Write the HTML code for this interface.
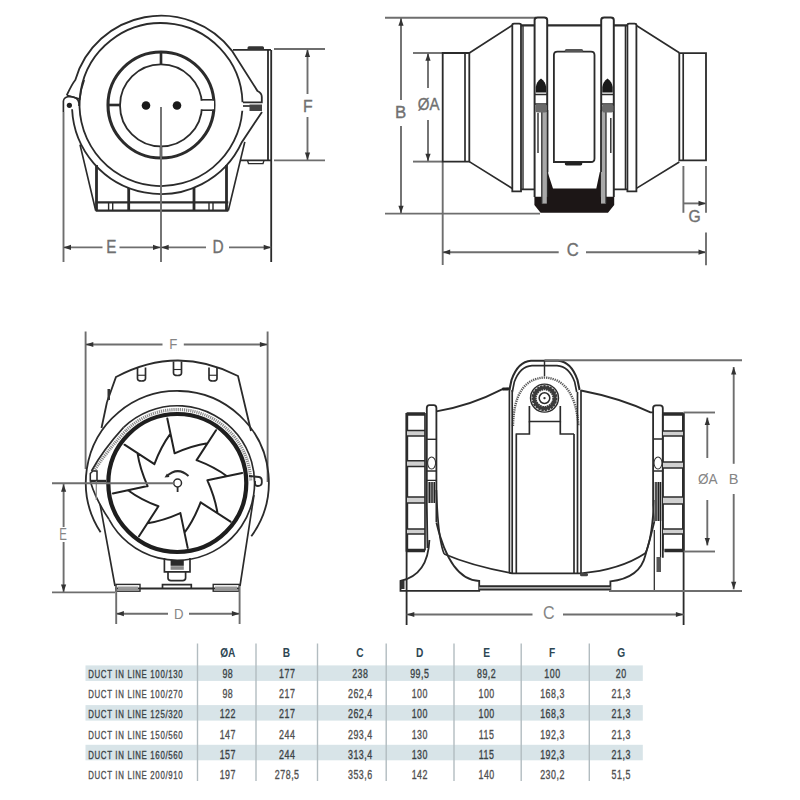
<!DOCTYPE html>
<html><head><meta charset="utf-8"><style>
html,body{margin:0;padding:0;background:#fff;width:800px;height:800px;overflow:hidden}
svg{display:block;font-family:"Liberation Sans",sans-serif}
</style></head><body>
<svg width="800" height="800" viewBox="0 0 800 800" stroke-linecap="butt">
<g>
<circle cx="161" cy="105.4" r="41" stroke="#2b2b2b" stroke-width="1.82" fill="none"/>
<circle cx="161" cy="105" r="53" stroke="#2b2b2b" stroke-width="3.08" fill="none"/>
<line x1="161" y1="52" x2="161" y2="64.5" stroke="#2b2b2b" stroke-width="2.64"/>
<line x1="108" y1="105" x2="120.5" y2="105" stroke="#2b2b2b" stroke-width="2.64"/>
<line x1="161" y1="146" x2="161" y2="158" stroke="#2b2b2b" stroke-width="2.64"/>
<path d="M201.5,99.8 L212.5,99.8 M201.5,110.2 L212.5,110.2" stroke="#2b2b2b" stroke-width="1.82" fill="none"/>
<rect x="200" y="100.8" width="14" height="8.4" fill="#fff"/>
<circle cx="146" cy="105.5" r="4.3" stroke="#2b2b2b" stroke-width="0.0" fill="#1a1a1a"/>
<circle cx="177" cy="105.5" r="4.3" stroke="#2b2b2b" stroke-width="0.0" fill="#1a1a1a"/>
<path d="M80.7,90.8 A81.5,81.5 0 0 1 242.5,102.2" stroke="#2b2b2b" stroke-width="1.82" fill="none"/>
<path d="M242.3,110.7 A81.5,81.5 0 1 1 80.7,90.8" stroke="#2b2b2b" stroke-width="1.82" fill="none"/>
<path d="M66.8,95.2 Q72,84 75.3,80 L75.3,79.9 A89.3,89.3 0 0 1 231.8,50.6 L257.5,91 Q261.8,93 261.8,97 L261.8,102.4 L243,102.4" stroke="#2b2b2b" stroke-width="1.82" fill="none"/>
<path d="M84.2,80 Q80.5,90 79.8,99.1 L66.8,95.2" stroke="#2b2b2b" stroke-width="1.68" fill="none"/>
<path d="M63.4,112 L63.4,101 Q64,96.5 70.5,96.5 Q78,97 79,103 L79,106" stroke="#2b2b2b" stroke-width="1.68" fill="none"/>
<circle cx="69.4" cy="105.3" r="2.6" stroke="#2b2b2b" stroke-width="0.0" fill="#222"/>
<path d="M72.1,109.3 A89,89 0 0 0 242.0,141.9 L262,112" stroke="#2b2b2b" stroke-width="1.82" fill="none"/>
<path d="M243,106 L262,106" stroke="#2b2b2b" stroke-width="1.68" fill="none"/>
<rect x="249.5" y="104.5" width="12.5" height="6.5" fill="#444"/>
<path d="M233,49.9 L271,49.9 M268,49.9 L268,160.4 M271.2,49.9 L271.2,262 M240,160.4 L271.2,160.4" stroke="#2b2b2b" stroke-width="1.82" fill="none"/>
<rect x="247.5" y="46.3" width="16.5" height="3.6" rx="1.5" fill="#333"/>
<path d="M247.5,160.4 L248.5,163.6 L263,163.6 L264,160.4" stroke="#2b2b2b" stroke-width="1.4" fill="none"/>
<path d="M80,144.6 L95.7,210.6 M244.8,141.9 L228.3,210.6" stroke="#2b2b2b" stroke-width="1.68" fill="none"/>
<path d="M95.7,210.6 L228.3,210.6 M95.7,202.4 L228.3,202.4" stroke="#2b2b2b" stroke-width="2.24" fill="none"/>
<path d="M96.5,165 L96.5,210.6 M226.5,165 L226.5,210.6" stroke="#2b2b2b" stroke-width="2.8" fill="none"/>
<path d="M128.7,188 L128.7,210.6 M194,188 L194,210.6" stroke="#2b2b2b" stroke-width="2.8" fill="none"/>
<path d="M108.6,202.4 L108.6,210.6 M112.7,202.4 L112.7,210.6 M209,202.4 L209,210.6 M213,202.4 L213,210.6" stroke="#2b2b2b" stroke-width="1.4" fill="none"/>
<line x1="161" y1="107" x2="161" y2="262" stroke="#6e6e6e" stroke-width="1.9"/>
<line x1="63.5" y1="112" x2="63.5" y2="262" stroke="#6e6e6e" stroke-width="1.9"/>
<line x1="63.5" y1="247.4" x2="102.5" y2="247.4" stroke="#6e6e6e" stroke-width="1.9"/>
<line x1="119.5" y1="247.4" x2="160.8" y2="247.4" stroke="#6e6e6e" stroke-width="1.9"/>
<line x1="160.8" y1="247.4" x2="206" y2="247.4" stroke="#6e6e6e" stroke-width="1.9"/>
<line x1="229" y1="247.4" x2="271.2" y2="247.4" stroke="#6e6e6e" stroke-width="1.9"/>
<polygon points="63.5,247.4 71.0,244.8 71.0,250.0" fill="#333"/>
<polygon points="160.5,247.4 153.0,244.8 153.0,250.0" fill="#333"/>
<polygon points="161.2,247.4 168.7,244.8 168.7,250.0" fill="#333"/>
<polygon points="271.2,247.4 263.7,244.8 263.7,250.0" fill="#333"/>
<text x="111.4" y="252.8" font-size="18.43" fill="#707070" stroke="#707070" stroke-width="0.35" text-anchor="middle" font-family="Liberation Sans, sans-serif" transform="translate(111.4 252.8) scale(0.83 1) translate(-111.4 -252.8)">E</text>
<text x="218.2" y="252.8" font-size="18.43" fill="#707070" stroke="#707070" stroke-width="0.35" text-anchor="middle" font-family="Liberation Sans, sans-serif" transform="translate(218.2 252.8) scale(0.84 1) translate(-218.2 -252.8)">D</text>
<line x1="274" y1="49" x2="325" y2="49" stroke="#6e6e6e" stroke-width="1.9"/>
<line x1="274" y1="160.4" x2="325" y2="160.4" stroke="#6e6e6e" stroke-width="1.9"/>
<line x1="307.5" y1="49" x2="307.5" y2="94" stroke="#6e6e6e" stroke-width="1.9"/>
<line x1="307.5" y1="117" x2="307.5" y2="160.4" stroke="#6e6e6e" stroke-width="1.9"/>
<polygon points="307.5,49.5 304.9,57.0 310.1,57.0" fill="#333"/>
<polygon points="307.5,160.0 304.9,152.5 310.1,152.5" fill="#333"/>
<text x="307.8" y="111.6" font-size="17.36" fill="#707070" stroke="#707070" stroke-width="0.35" text-anchor="middle" font-family="Liberation Sans, sans-serif" transform="translate(307.8 111.6) scale(0.91 1) translate(-307.8 -111.6)">F</text>
<line x1="385" y1="17.8" x2="536" y2="17.8" stroke="#6e6e6e" stroke-width="1.9"/>
<line x1="385" y1="213.6" x2="540" y2="213.6" stroke="#6e6e6e" stroke-width="1.9"/>
<line x1="401" y1="18" x2="401" y2="100" stroke="#6e6e6e" stroke-width="1.9"/>
<line x1="401" y1="126" x2="401" y2="213.6" stroke="#6e6e6e" stroke-width="1.9"/>
<polygon points="401.0,18.3 398.4,25.8 403.6,25.8" fill="#333"/>
<polygon points="401.0,213.3 398.4,205.8 403.6,205.8" fill="#333"/>
<text x="400.6" y="118" font-size="16.9" fill="#707070" stroke="#707070" stroke-width="0.35" text-anchor="middle" font-family="Liberation Sans, sans-serif" transform="translate(400.6 118) scale(1.0 1) translate(-400.6 -118)">B</text>
<line x1="413" y1="53" x2="442" y2="53" stroke="#6e6e6e" stroke-width="1.9"/>
<line x1="413" y1="161.6" x2="442" y2="161.6" stroke="#6e6e6e" stroke-width="1.9"/>
<line x1="428" y1="53" x2="428" y2="88" stroke="#6e6e6e" stroke-width="1.9"/>
<line x1="428" y1="120" x2="428" y2="161.6" stroke="#6e6e6e" stroke-width="1.9"/>
<polygon points="428.0,53.3 425.4,60.8 430.6,60.8" fill="#333"/>
<polygon points="428.0,161.3 425.4,153.8 430.6,153.8" fill="#333"/>
<text x="428.6" y="110" font-size="16.9" fill="#707070" stroke="#707070" stroke-width="0.35" text-anchor="middle" font-family="Liberation Sans, sans-serif" transform="translate(428.6 110) scale(0.89 1) translate(-428.6 -110)">ØA</text>
<line x1="442.7" y1="161.6" x2="442.7" y2="265" stroke="#6e6e6e" stroke-width="1.9"/>
<line x1="442.7" y1="252.2" x2="558.7" y2="252.2" stroke="#6e6e6e" stroke-width="1.9"/>
<line x1="586" y1="252.2" x2="706" y2="252.2" stroke="#6e6e6e" stroke-width="1.9"/>
<polygon points="442.7,252.2 450.2,249.6 450.2,254.8" fill="#333"/>
<polygon points="706.0,252.2 698.5,249.6 698.5,254.8" fill="#333"/>
<text x="572.8" y="256.4" font-size="18.43" fill="#707070" stroke="#707070" stroke-width="0.35" text-anchor="middle" font-family="Liberation Sans, sans-serif" transform="translate(572.8 256.4) scale(0.9 1) translate(-572.8 -256.4)">C</text>
<line x1="683.4" y1="166" x2="683.4" y2="212.8" stroke="#6e6e6e" stroke-width="1.9"/>
<line x1="706" y1="166" x2="706" y2="212.8" stroke="#6e6e6e" stroke-width="1.9"/>
<line x1="706" y1="232.5" x2="706" y2="265.3" stroke="#6e6e6e" stroke-width="1.9"/>
<line x1="683.4" y1="203.4" x2="706" y2="203.4" stroke="#6e6e6e" stroke-width="1.9"/>
<polygon points="706.0,203.4 698.5,200.8 698.5,206.0" fill="#333"/>
<text x="694.5" y="222" font-size="15.67" fill="#707070" stroke="#707070" stroke-width="0.35" text-anchor="middle" font-family="Liberation Sans, sans-serif" transform="translate(694.5 222) scale(1.0 1) translate(-694.5 -222)">G</text>
<path d="M442.7,53 L469.3,53 L469.3,161.6 L442.7,161.6 Z" stroke="#2b2b2b" stroke-width="1.82" fill="none"/>
<path d="M465,53 L465,161.6" stroke="#2b2b2b" stroke-width="1.68" fill="none"/>
<path d="M469.3,53 L512.3,25.2 M469.3,161.6 L512.3,188.5" stroke="#2b2b2b" stroke-width="1.68" fill="none"/>
<path d="M512.3,191.4 L512.3,25 Q512.3,23.6 514,23.6 L519.3,23.6 Q521,23.6 521,25 L521,191.4 Z" stroke="#2b2b2b" stroke-width="1.82" fill="none"/>
<path d="M521,25.4 L535,25.4 M547.3,25.4 L601.2,25.4 M613.7,25.4 L627.4,25.4" stroke="#2b2b2b" stroke-width="2.24" fill="none"/>
<path d="M521,189.3 L535,189.3 M613.7,189.3 L627.4,189.3" stroke="#2b2b2b" stroke-width="1.82" fill="none"/>
<path d="M523,25.4 L523,189.3 M625.4,25.4 L625.4,189.3" stroke="#2b2b2b" stroke-width="1.4" fill="none"/>
<path d="M627.4,191.4 L627.4,25 Q627.4,23.6 629,23.6 L634.6,23.6 Q636.4,23.6 636.4,25 L636.4,191.4 Z" stroke="#2b2b2b" stroke-width="1.82" fill="none"/>
<path d="M636.4,25.5 L679.3,52.8 M636.4,188.4 L679.3,162" stroke="#2b2b2b" stroke-width="1.68" fill="none"/>
<path d="M679.3,53.2 L706,53.2 L706,160.3 L679.3,160.3 Z" stroke="#2b2b2b" stroke-width="1.82" fill="none"/>
<path d="M683.2,53.2 L683.2,160.3" stroke="#2b2b2b" stroke-width="1.68" fill="none"/>
<polygon points="534.4,196.8 547.6,196.8 547.6,172 553,188.5 596.3,188.5 599.8,172 601.2,172 601.2,196.8 614.2,196.8 614.2,205 608,212.7 540.6,212.7 534.4,205" fill="#1c1616"/>
<path d="M534.6,197 L534.6,20 Q534.6,17.5 537.6,17.5 L544.2,17.5 Q547.2,17.5 547.2,20 L547.2,197" stroke="#2b2b2b" stroke-width="1.96" fill="none"/>
<path d="M601.2,197 L601.2,20 Q601.2,17.5 604.2,17.5 L610.8000000000001,17.5 Q613.8000000000001,17.5 613.8000000000001,20 L613.8000000000001,197" stroke="#2b2b2b" stroke-width="1.96" fill="none"/>
<rect x="541.8" y="112" width="5" height="91.6" fill="#a8a8a8"/>
<rect x="601" y="112" width="5" height="91.6" fill="#a8a8a8"/>
<path d="M541.8,112 L541.8,203.6 M606,112 L606,203.6" stroke="#2b2b2b" stroke-width="1.26" fill="none"/>
<path d="M535.8,92.5 L535.8,87 Q536.5,81.5 541,78.5 Q545.5,81.5 546.2,87 L546.2,92.5 Z" fill="#1a1a1a"/>
<path d="M535,94.5 L547,94.5 M535,104 L547,104" stroke="#2b2b2b" stroke-width="1.68" fill="none"/>
<rect x="535.5" y="104.5" width="11.5" height="8" rx="2" fill="#6a6a6a"/>
<path d="M602.3,92.5 L602.3,87 Q603.0,81.5 607.5,78.5 Q612.0,81.5 612.7,87 L612.7,92.5 Z" fill="#1a1a1a"/>
<path d="M601.5,94.5 L613.5,94.5 M601.5,104 L613.5,104" stroke="#2b2b2b" stroke-width="1.68" fill="none"/>
<rect x="602.0" y="104.5" width="11.5" height="8" rx="2" fill="#6a6a6a"/>
<path d="M538,113 L538,153 M610.8,118 L610.8,153" stroke="#2b2b2b" stroke-width="1.4" fill="none"/>
<path d="M553.9,162 L553.9,55 Q553.9,51.6 557.5,51.6 L591,51.6 Q594.5,51.6 594.5,55 L594.5,158.5 Q594.5,162 591,162 Z" stroke="#2b2b2b" stroke-width="1.82" fill="none"/>
<rect x="564.8" y="49" width="18.3" height="3" rx="1.5" fill="#555"/>
<rect x="564.8" y="162" width="17.5" height="3.5" rx="1.7" fill="#222"/>
<path d="M547.6,172 L547.6,110 M601.2,172 L601.2,110" stroke="#2b2b2b" stroke-width="1.4" fill="none"/>
<line x1="85.6" y1="331.5" x2="85.6" y2="469" stroke="#6e6e6e" stroke-width="1.9"/>
<line x1="267.6" y1="331.5" x2="267.6" y2="482" stroke="#6e6e6e" stroke-width="1.9"/>
<line x1="85.6" y1="344.5" x2="162.5" y2="344.5" stroke="#6e6e6e" stroke-width="1.9"/>
<line x1="183.8" y1="344.5" x2="267.6" y2="344.5" stroke="#6e6e6e" stroke-width="1.9"/>
<polygon points="85.8,344.5 93.3,341.9 93.3,347.1" fill="#333"/>
<polygon points="267.4,344.5 259.9,341.9 259.9,347.1" fill="#333"/>
<text x="173.3" y="348.8" font-size="14.29" fill="#858585" stroke="#858585" stroke-width="0" text-anchor="middle" font-family="Liberation Sans, sans-serif" transform="translate(173.3 348.8) scale(0.93 1) translate(-173.3 -348.8)">F</text>
<path d="M107,402 L116,377 Q177,344.5 238,376 L251,431" stroke="#2b2b2b" stroke-width="1.82" fill="none"/>
<path d="M107,402 L101.5,428" stroke="#2b2b2b" stroke-width="1.82" fill="none"/>
<path d="M137.5,367.5 L137.5,378.5 Q137.5,381 141.5,381 Q145.5,381 145.5,378.5 L145.5,367.5" stroke="#2b2b2b" stroke-width="1.68" fill="none"/>
<path d="M137.5,375.25 L145.5,375.25" stroke="#2b2b2b" stroke-width="1.12" fill="none"/>
<path d="M173.5,361.5 L173.5,373.0 Q173.5,375.5 177.5,375.5 Q181.5,375.5 181.5,373.0 L181.5,361.5" stroke="#2b2b2b" stroke-width="1.68" fill="none"/>
<path d="M173.5,369.5 L181.5,369.5" stroke="#2b2b2b" stroke-width="1.12" fill="none"/>
<path d="M209,367.5 L209,378.5 Q209,381 213,381 Q217,381 217,378.5 L217,367.5" stroke="#2b2b2b" stroke-width="1.68" fill="none"/>
<path d="M209,375.25 L217,375.25" stroke="#2b2b2b" stroke-width="1.12" fill="none"/>
<rect x="107.5" y="389" width="2.5" height="11" fill="#333"/>
<path d="M100.6,532.3 A91.5,91.5 0 1 1 251.3,536.3" stroke="#2b2b2b" stroke-width="1.82" fill="none"/>
<path d="M123.6,427.4 A77.3,77.3 0 1 1 109.0,519.3" stroke="#2b2b2b" stroke-width="1.68" fill="none"/>
<path d="M126.3,430.2 A73.4,73.4 0 0 1 250.7,480.4" fill="none" stroke="#8a8a8a" stroke-width="3.2" stroke-dasharray="1.2 0.9"/>
<path d="M126,430.5 Q106,452 94,471" fill="none" stroke="#8a8a8a" stroke-width="3.2" stroke-dasharray="1.2 0.9"/>
<path d="M123.6,427.4 Q103,450 91.5,471" stroke="#2b2b2b" stroke-width="1.68" fill="none"/>
<path d="M90.5,482 Q96,500 109,519.3" stroke="#2b2b2b" stroke-width="1.68" fill="none"/>
<circle cx="177.3" cy="483" r="69" stroke="#1e1e1e" stroke-width="4.2" fill="none"/>
<path d="M100,504 L115,586 M254,495 L240,586" stroke="#2b2b2b" stroke-width="1.68" fill="none"/>
<path d="M90.3,481 L90.3,473.5 L92.8,471 L97,471 L97,481 Z" stroke="#2b2b2b" stroke-width="1.54" fill="none"/>
<path d="M90.3,481 L106,481" stroke="#2b2b2b" stroke-width="2.38" fill="none"/>
<path d="M96.3,481 L96.3,500" stroke="#888" stroke-width="1.26" fill="none"/>
<path d="M249,476 L259,477 Q261.8,477.5 261.8,480.5 L261.8,483 Q261.5,486 258,486 Q255,486 255,483.5 L255,481" stroke="#2b2b2b" stroke-width="1.82" fill="none"/>
<path d="M167.3,418.5 L174.6,453.3 M174.6,453.3 Q192.2,445.5 207.5,443.2 M216.0,430.2 L196.6,460.1 M196.6,460.1 Q214.5,466.9 227.0,476.2 M242.2,473.0 L207.4,480.3 M207.4,480.3 Q215.2,497.9 217.5,513.2 M230.5,521.7 L200.6,502.3 M200.6,502.3 Q193.8,520.2 184.5,532.7 M187.7,547.9 L180.4,513.1 M180.4,513.1 Q162.8,520.9 147.5,523.2 M139.0,536.2 L158.4,506.3 M158.4,506.3 Q140.5,499.5 128.0,490.2 M112.8,493.4 L147.6,486.1 M147.6,486.1 Q139.8,468.5 137.5,453.2 M124.5,444.7 L154.4,464.1 M154.4,464.1 Q161.2,446.2 170.5,433.7 " fill="none" stroke="#222" stroke-width="2.0" stroke-linejoin="round" stroke-linecap="round"/>
<circle cx="177.6" cy="483" r="3.9" fill="#fff" stroke="#2b2b2b" stroke-width="1.5"/>
<path d="M177.6,487 L177.6,492" stroke="#2b2b2b" stroke-width="1.82" fill="none"/>
<path d="M166.5,476.5 Q177.5,466 188.5,476" stroke="#2b2b2b" stroke-width="1.96" fill="none"/>
<polygon points="164.5,477.5 167,473.5 169.5,477" fill="#2b2b2b"/>
<line x1="52" y1="483.3" x2="174.3" y2="483.3" stroke="#6e6e6e" stroke-width="1.9"/>
<path d="M164.4,558 L164.4,571.9 L190,571.9 L190,558" stroke="#2b2b2b" stroke-width="1.68" fill="none"/>
<rect x="170.6" y="560" width="13.2" height="5.8" fill="#2a2a2a"/>
<rect x="170.6" y="566.2" width="13.2" height="3.6" fill="#888"/>
<path d="M168,571.9 L168,578 Q168,580.6 171,580.6 L182.6,580.6 Q185.6,580.6 185.6,578 L185.6,571.9" stroke="#2b2b2b" stroke-width="1.68" fill="none"/>
<path d="M115,588.6 L240,588.6" stroke="#2b2b2b" stroke-width="1.96" fill="none"/>
<path d="M162.5,588.6 L162.5,584.6 L191.3,584.6 L191.3,588.6" stroke="#2b2b2b" stroke-width="1.68" fill="none"/>
<rect x="116" y="584.4" width="24" height="6.8" fill="none" stroke="#2b2b2b" stroke-width="1.4"/>
<rect x="213.2" y="584.4" width="26" height="6.8" fill="none" stroke="#2b2b2b" stroke-width="1.4"/>
<rect x="118" y="586.5" width="20" height="2.5" fill="#999"/>
<rect x="215" y="586.5" width="22" height="2.5" fill="#999"/>
<line x1="52" y1="592.4" x2="115" y2="592.4" stroke="#6e6e6e" stroke-width="1.9"/>
<line x1="63.6" y1="484" x2="63.6" y2="527" stroke="#6e6e6e" stroke-width="1.9"/>
<line x1="63.6" y1="542" x2="63.6" y2="592.4" stroke="#6e6e6e" stroke-width="1.9"/>
<polygon points="63.6,484.3 61.0,491.8 66.2,491.8" fill="#333"/>
<polygon points="63.6,592.0 61.0,584.5 66.2,584.5" fill="#333"/>
<text x="63.2" y="540" font-size="16.9" fill="#858585" stroke="#858585" stroke-width="0" text-anchor="middle" font-family="Liberation Sans, sans-serif" transform="translate(63.2 540) scale(0.68 1) translate(-63.2 -540)">E</text>
<line x1="116.2" y1="586" x2="116.2" y2="624" stroke="#6e6e6e" stroke-width="1.9"/>
<line x1="239.6" y1="586" x2="239.6" y2="624" stroke="#6e6e6e" stroke-width="1.9"/>
<line x1="116.2" y1="613.7" x2="168" y2="613.7" stroke="#6e6e6e" stroke-width="1.9"/>
<line x1="189" y1="613.7" x2="239.6" y2="613.7" stroke="#6e6e6e" stroke-width="1.9"/>
<polygon points="116.4,613.7 123.9,611.1 123.9,616.3" fill="#333"/>
<polygon points="239.4,613.7 231.9,611.1 231.9,616.3" fill="#333"/>
<text x="178.7" y="618.8" font-size="15.36" fill="#858585" stroke="#858585" stroke-width="0" text-anchor="middle" font-family="Liberation Sans, sans-serif" transform="translate(178.7 618.8) scale(0.86 1) translate(-178.7 -618.8)">D</text>
<path d="M406.6,414 L425,414 M406.6,550.5 L425,550.5" stroke="#2b2b2b" stroke-width="3.64" fill="none"/>
<path d="M406.8,413 L406.8,551.5" stroke="#2b2b2b" stroke-width="2.8" fill="none"/>
<path d="M406.6,551 L406.6,625" stroke="#2b2b2b" stroke-width="1.82" fill="none"/>
<rect x="407" y="430.6" width="18" height="5.399999999999977" fill="#d0d0d0"/>
<path d="M406.6,430.6 L425,430.6 M406.6,436 L425,436" stroke="#2b2b2b" stroke-width="1.54" fill="none"/>
<rect x="407" y="460.8" width="18" height="5.800000000000011" fill="#d0d0d0"/>
<path d="M406.6,460.8 L425,460.8 M406.6,466.6 L425,466.6" stroke="#2b2b2b" stroke-width="1.54" fill="none"/>
<rect x="407" y="497" width="18" height="6" fill="#d0d0d0"/>
<path d="M406.6,497 L425,497 M406.6,503 L425,503" stroke="#2b2b2b" stroke-width="1.54" fill="none"/>
<rect x="407" y="529" width="18" height="5" fill="#d0d0d0"/>
<path d="M406.6,529 L425,529 M406.6,534 L425,534" stroke="#2b2b2b" stroke-width="1.54" fill="none"/>
<path d="M425,413 L425,550.5" stroke="#2b2b2b" stroke-width="1.68" fill="none"/>
<path d="M427.5,548 L426.8,505 L426.8,408 Q426.8,405.1 429.5,405.1 L433.7,405.1 Q436.4,405.1 436.4,408 L436.4,522" stroke="#2b2b2b" stroke-width="1.82" fill="none"/>
<path d="M426.8,439.3 L436.4,439.3" stroke="#2b2b2b" stroke-width="1.4" fill="none"/>
<ellipse cx="431.6" cy="463" rx="4" ry="6" fill="none" stroke="#333" stroke-width="1.1"/>
<path d="M426.8,471 L436.4,471 M426.8,480.4 L436.4,480.4" stroke="#2b2b2b" stroke-width="1.4" fill="none"/>
<rect x="428" y="482" width="8" height="21" fill="#8a8a8a"/>
<path d="M429.5,482 L429.5,503 M432,482 L432,503 M434.5,482 L434.5,503" stroke="#222" stroke-width="1.12" fill="none"/>
<path d="M436.4,411.3 Q470,406 502,389.4 L509.4,388.5" stroke="#2b2b2b" stroke-width="1.82" fill="none"/>
<rect x="502" y="387.5" width="7" height="3" rx="1.3" fill="#222"/>
<path d="M509.4,390 L511.5,380 Q518,361.5 531,360.8 L558,360.8 Q571,361.5 577.5,380 L579.6,390" stroke="#2b2b2b" stroke-width="2.1" fill="none"/>
<path d="M512.3,392 L514.3,382 Q520,366.3 532,365.6 L557,365.6 Q569,366.3 574.7,382 L576.7,392" stroke="#2b2b2b" stroke-width="1.68" fill="none"/>
<path d="M513,426 Q514,379 544.5,377.5 Q575,379 578.5,426" fill="none" stroke="#5a5a5a" stroke-width="2.4" stroke-dasharray="1.3 0.9"/>
<line x1="544.5" y1="360.3" x2="544.5" y2="376" stroke="#2b2b2b" stroke-width="1.44"/>
<circle cx="544.5" cy="398.1" r="14" stroke="#2b2b2b" stroke-width="1.4" fill="none"/>
<circle cx="544.5" cy="398.1" r="10.4" fill="none" stroke="#3a3a3a" stroke-width="5.2" stroke-dasharray="2.2 0.6"/>
<circle cx="544.5" cy="398.1" r="10.4" stroke="#3a3a3a" stroke-width="2.8" fill="none"/>
<circle cx="544.5" cy="398.1" r="5.3" stroke="#2b2b2b" stroke-width="1.54" fill="none"/>
<circle cx="544.5" cy="398.1" r="1.2" stroke="#2b2b2b" stroke-width="0.0" fill="#333"/>
<path d="M529.4,406 L529.4,421.5 L560.3,421.5 L560.3,406" stroke="#2b2b2b" stroke-width="1.68" fill="none"/>
<path d="M509.4,388.5 L509.4,573 M512.2,390 L512.2,573 M516.3,434 L516.3,573 M515.6,434 L529.4,434 L529.4,421.5 M560.3,421.5 L560.3,434 L574,434 M574,434 L574,573 M577.5,392 L577.5,573 M581,390 L581,573" stroke="#2b2b2b" stroke-width="1.68" fill="none"/>
<path d="M581,390.5 Q620,398 650.5,412.4 L653,412.4" stroke="#2b2b2b" stroke-width="1.82" fill="none"/>
<path d="M444.2,554 Q472,566 512.5,573.3 L581,573.3 Q620,570 645.3,553.3" stroke="#2b2b2b" stroke-width="1.82" fill="none"/>
<path d="M436.4,490 Q438,540 444.2,554" stroke="#2b2b2b" stroke-width="1.68" fill="none"/>
<path d="M654,500 Q652,540 645.3,553.3" stroke="#2b2b2b" stroke-width="1.68" fill="none"/>
<path d="M429.4,540 Q428,575 400.5,581 L400.5,590.8 L479.2,590.8 L479.2,581 Q450,580 436.4,522.5" stroke="#2b2b2b" stroke-width="1.82" fill="none"/>
<path d="M610.4,591 L610.4,581.4 Q640,578 645.3,555.5 Q650,540 654.3,521.8" stroke="#2b2b2b" stroke-width="1.82" fill="none"/>
<rect x="479.2" y="586.2" width="131.2" height="3.4" fill="#aaa"/>
<path d="M479.2,586.2 L610.4,586.2 M479.2,589.6 L610.4,589.6" stroke="#2b2b2b" stroke-width="1.82" fill="none"/>
<rect x="400.5" y="581" width="4" height="8" fill="#333"/>
<path d="M654.3,521.8 L653.1,505 L653.1,408 Q653.1,405.4 656,405.4 L660,405.4 Q662.8,405.4 662.8,408 L662.8,557.7" stroke="#2b2b2b" stroke-width="1.82" fill="none"/>
<path d="M653.1,439 L662.8,439 M653.1,471 L662.8,471" stroke="#2b2b2b" stroke-width="1.4" fill="none"/>
<ellipse cx="658" cy="463" rx="4" ry="6" fill="none" stroke="#333" stroke-width="1.1"/>
<rect x="654.5" y="482" width="7" height="39" fill="#8a8a8a"/>
<path d="M656,482 L656,521 M658.5,482 L658.5,521 M660.5,482 L660.5,557" stroke="#222" stroke-width="1.12" fill="none"/>
<path d="M654.3,530 L654.3,591" stroke="#2b2b2b" stroke-width="1.26" fill="none"/>
<rect x="656.5" y="557" width="4.5" height="15" fill="#555"/>
<rect x="580" y="573" width="8" height="3.2" rx="1.5" fill="#444"/>
<path d="M662.8,414 L683.6,414 M664.4,550.5 L683.6,550.5" stroke="#2b2b2b" stroke-width="3.64" fill="none"/>
<path d="M683.4,413 L683.4,551.5" stroke="#2b2b2b" stroke-width="2.8" fill="none"/>
<path d="M683.6,551 L683.6,625" stroke="#2b2b2b" stroke-width="1.82" fill="none"/>
<path d="M662.8,413.3 L662.8,550.5" stroke="#2b2b2b" stroke-width="1.68" fill="none"/>
<rect x="663" y="431" width="20" height="5" fill="#d0d0d0"/>
<path d="M662.8,431 L683.6,431 M662.8,436 L683.6,436" stroke="#2b2b2b" stroke-width="1.54" fill="none"/>
<rect x="663" y="462" width="20" height="6" fill="#d0d0d0"/>
<path d="M662.8,462 L683.6,462 M662.8,468 L683.6,468" stroke="#2b2b2b" stroke-width="1.54" fill="none"/>
<rect x="663" y="497" width="20" height="7" fill="#d0d0d0"/>
<path d="M662.8,497 L683.6,497 M662.8,504 L683.6,504" stroke="#2b2b2b" stroke-width="1.54" fill="none"/>
<rect x="663" y="529" width="20" height="5" fill="#d0d0d0"/>
<path d="M662.8,529 L683.6,529 M662.8,534 L683.6,534" stroke="#2b2b2b" stroke-width="1.54" fill="none"/>
<line x1="544.5" y1="360.3" x2="742" y2="360.3" stroke="#6e6e6e" stroke-width="1.9"/>
<line x1="609" y1="591" x2="742" y2="591" stroke="#6e6e6e" stroke-width="1.9"/>
<line x1="733.7" y1="367" x2="733.7" y2="463.8" stroke="#6e6e6e" stroke-width="1.9"/>
<line x1="733.7" y1="494" x2="733.7" y2="589.3" stroke="#6e6e6e" stroke-width="1.9"/>
<polygon points="733.7,367.0 731.1,374.5 736.3,374.5" fill="#333"/>
<polygon points="733.7,589.3 731.1,581.8 736.3,581.8" fill="#333"/>
<text x="733.6" y="484" font-size="14.59" fill="#858585" stroke="#858585" stroke-width="0" text-anchor="middle" font-family="Liberation Sans, sans-serif" transform="translate(733.6 484) scale(1.0 1) translate(-733.6 -484)">B</text>
<line x1="683.6" y1="412.5" x2="715" y2="412.5" stroke="#6e6e6e" stroke-width="1.9"/>
<line x1="683.6" y1="551.5" x2="715" y2="551.5" stroke="#6e6e6e" stroke-width="1.9"/>
<line x1="707.3" y1="417.6" x2="707.3" y2="458" stroke="#6e6e6e" stroke-width="1.9"/>
<line x1="707.3" y1="500" x2="707.3" y2="545.4" stroke="#6e6e6e" stroke-width="1.9"/>
<polygon points="707.3,417.6 704.7,425.1 709.9,425.1" fill="#333"/>
<polygon points="707.3,545.4 704.7,537.9 709.9,537.9" fill="#333"/>
<text x="707.7" y="484" font-size="14.59" fill="#858585" stroke="#858585" stroke-width="0" text-anchor="middle" font-family="Liberation Sans, sans-serif" transform="translate(707.7 484) scale(0.93 1) translate(-707.7 -484)">ØA</text>
<line x1="406.6" y1="614.5" x2="532.5" y2="614.5" stroke="#6e6e6e" stroke-width="1.9"/>
<line x1="563" y1="614.5" x2="683.6" y2="614.5" stroke="#6e6e6e" stroke-width="1.9"/>
<polygon points="406.8,614.5 414.3,611.9 414.3,617.1" fill="#333"/>
<polygon points="683.4,614.5 675.9,611.9 675.9,617.1" fill="#333"/>
<text x="548.7" y="619.5" font-size="18.43" fill="#858585" stroke="#858585" stroke-width="0" text-anchor="middle" font-family="Liberation Sans, sans-serif" transform="translate(548.7 619.5) scale(0.87 1) translate(-548.7 -619.5)">C</text>
</g>
<g font-family="Liberation Sans, sans-serif">
<rect x="85.5" y="665.4" width="557.3" height="15.5" fill="#d8e4e8"/>
<rect x="85.5" y="705.1" width="557.3" height="15.5" fill="#d8e4e8"/>
<rect x="85.5" y="744.8" width="557.3" height="15.5" fill="#d8e4e8"/>
<line x1="197.5" y1="643.5" x2="197.5" y2="781" stroke="#b2bcc0" stroke-width="1.4"/>
<line x1="256" y1="643.5" x2="256" y2="781" stroke="#b2bcc0" stroke-width="1.4"/>
<line x1="317.5" y1="643.5" x2="317.5" y2="781" stroke="#b2bcc0" stroke-width="1.4"/>
<line x1="386.2" y1="643.5" x2="386.2" y2="781" stroke="#b2bcc0" stroke-width="1.4"/>
<line x1="454" y1="643.5" x2="454" y2="781" stroke="#b2bcc0" stroke-width="1.4"/>
<line x1="521.2" y1="643.5" x2="521.2" y2="781" stroke="#b2bcc0" stroke-width="1.4"/>
<line x1="589.3" y1="643.5" x2="589.3" y2="781" stroke="#b2bcc0" stroke-width="1.4"/>
<text x="227.8" y="657.4" font-size="12.7" font-weight="bold" fill="#2d4653" text-anchor="middle" transform="translate(227.8 657.4) scale(0.8 1) translate(-227.8 -657.4)">ØA</text>
<text x="286.5" y="657.4" font-size="12.7" font-weight="bold" fill="#2d4653" text-anchor="middle" transform="translate(286.5 657.4) scale(0.8 1) translate(-286.5 -657.4)">B</text>
<text x="360" y="657.4" font-size="12.7" font-weight="bold" fill="#2d4653" text-anchor="middle" transform="translate(360 657.4) scale(0.8 1) translate(-360 -657.4)">C</text>
<text x="419.8" y="657.4" font-size="12.7" font-weight="bold" fill="#2d4653" text-anchor="middle" transform="translate(419.8 657.4) scale(0.8 1) translate(-419.8 -657.4)">D</text>
<text x="486.6" y="657.4" font-size="12.7" font-weight="bold" fill="#2d4653" text-anchor="middle" transform="translate(486.6 657.4) scale(0.8 1) translate(-486.6 -657.4)">E</text>
<text x="552" y="657.4" font-size="12.7" font-weight="bold" fill="#2d4653" text-anchor="middle" transform="translate(552 657.4) scale(0.8 1) translate(-552 -657.4)">F</text>
<text x="621.2" y="657.4" font-size="12.7" font-weight="bold" fill="#2d4653" text-anchor="middle" transform="translate(621.2 657.4) scale(0.8 1) translate(-621.2 -657.4)">G</text>
<text x="88.2" y="678.2" font-size="11.2" fill="#3b4346" stroke="#3b4346" stroke-width="0.35" textLength="135" lengthAdjust="spacing" transform="translate(88.2 678.2) scale(0.7 1) translate(-88.2 -678.2)">DUCT IN LINE 100/130</text>
<text x="227.8" y="678.2" font-size="12.3" fill="#3b4346" stroke="#3b4346" stroke-width="0.35" letter-spacing="0.7" text-anchor="middle" transform="translate(227.8 678.2) scale(0.72 1) translate(-227.8 -678.2)">98</text>
<text x="287.2" y="678.2" font-size="12.3" fill="#3b4346" stroke="#3b4346" stroke-width="0.35" letter-spacing="0.7" text-anchor="middle" transform="translate(287.2 678.2) scale(0.72 1) translate(-287.2 -678.2)">177</text>
<text x="360.3" y="678.2" font-size="12.3" fill="#3b4346" stroke="#3b4346" stroke-width="0.35" letter-spacing="0.7" text-anchor="middle" transform="translate(360.3 678.2) scale(0.72 1) translate(-360.3 -678.2)">238</text>
<text x="419.8" y="678.2" font-size="12.3" fill="#3b4346" stroke="#3b4346" stroke-width="0.35" letter-spacing="0.7" text-anchor="middle" transform="translate(419.8 678.2) scale(0.72 1) translate(-419.8 -678.2)">99,5</text>
<text x="486.6" y="678.2" font-size="12.3" fill="#3b4346" stroke="#3b4346" stroke-width="0.35" letter-spacing="0.7" text-anchor="middle" transform="translate(486.6 678.2) scale(0.72 1) translate(-486.6 -678.2)">89,2</text>
<text x="552.5" y="678.2" font-size="12.3" fill="#3b4346" stroke="#3b4346" stroke-width="0.35" letter-spacing="0.7" text-anchor="middle" transform="translate(552.5 678.2) scale(0.72 1) translate(-552.5 -678.2)">100</text>
<text x="621.2" y="678.2" font-size="12.3" fill="#3b4346" stroke="#3b4346" stroke-width="0.35" letter-spacing="0.7" text-anchor="middle" transform="translate(621.2 678.2) scale(0.72 1) translate(-621.2 -678.2)">20</text>
<text x="88.2" y="698.4" font-size="11.2" fill="#505050" stroke="#505050" stroke-width="0.35" textLength="135" lengthAdjust="spacing" transform="translate(88.2 698.4) scale(0.7 1) translate(-88.2 -698.4)">DUCT IN LINE 100/270</text>
<text x="227.8" y="698.4" font-size="12.3" fill="#505050" stroke="#505050" stroke-width="0.35" letter-spacing="0.7" text-anchor="middle" transform="translate(227.8 698.4) scale(0.72 1) translate(-227.8 -698.4)">98</text>
<text x="287.2" y="698.4" font-size="12.3" fill="#505050" stroke="#505050" stroke-width="0.35" letter-spacing="0.7" text-anchor="middle" transform="translate(287.2 698.4) scale(0.72 1) translate(-287.2 -698.4)">217</text>
<text x="360.3" y="698.4" font-size="12.3" fill="#505050" stroke="#505050" stroke-width="0.35" letter-spacing="0.7" text-anchor="middle" transform="translate(360.3 698.4) scale(0.72 1) translate(-360.3 -698.4)">262,4</text>
<text x="419.8" y="698.4" font-size="12.3" fill="#505050" stroke="#505050" stroke-width="0.35" letter-spacing="0.7" text-anchor="middle" transform="translate(419.8 698.4) scale(0.72 1) translate(-419.8 -698.4)">100</text>
<text x="486.6" y="698.4" font-size="12.3" fill="#505050" stroke="#505050" stroke-width="0.35" letter-spacing="0.7" text-anchor="middle" transform="translate(486.6 698.4) scale(0.72 1) translate(-486.6 -698.4)">100</text>
<text x="552.5" y="698.4" font-size="12.3" fill="#505050" stroke="#505050" stroke-width="0.35" letter-spacing="0.7" text-anchor="middle" transform="translate(552.5 698.4) scale(0.72 1) translate(-552.5 -698.4)">168,3</text>
<text x="621.2" y="698.4" font-size="12.3" fill="#505050" stroke="#505050" stroke-width="0.35" letter-spacing="0.7" text-anchor="middle" transform="translate(621.2 698.4) scale(0.72 1) translate(-621.2 -698.4)">21,3</text>
<text x="88.2" y="718.5" font-size="11.2" fill="#3b4346" stroke="#3b4346" stroke-width="0.35" textLength="135" lengthAdjust="spacing" transform="translate(88.2 718.5) scale(0.7 1) translate(-88.2 -718.5)">DUCT IN LINE 125/320</text>
<text x="227.8" y="718.5" font-size="12.3" fill="#3b4346" stroke="#3b4346" stroke-width="0.35" letter-spacing="0.7" text-anchor="middle" transform="translate(227.8 718.5) scale(0.72 1) translate(-227.8 -718.5)">122</text>
<text x="287.2" y="718.5" font-size="12.3" fill="#3b4346" stroke="#3b4346" stroke-width="0.35" letter-spacing="0.7" text-anchor="middle" transform="translate(287.2 718.5) scale(0.72 1) translate(-287.2 -718.5)">217</text>
<text x="360.3" y="718.5" font-size="12.3" fill="#3b4346" stroke="#3b4346" stroke-width="0.35" letter-spacing="0.7" text-anchor="middle" transform="translate(360.3 718.5) scale(0.72 1) translate(-360.3 -718.5)">262,4</text>
<text x="419.8" y="718.5" font-size="12.3" fill="#3b4346" stroke="#3b4346" stroke-width="0.35" letter-spacing="0.7" text-anchor="middle" transform="translate(419.8 718.5) scale(0.72 1) translate(-419.8 -718.5)">100</text>
<text x="486.6" y="718.5" font-size="12.3" fill="#3b4346" stroke="#3b4346" stroke-width="0.35" letter-spacing="0.7" text-anchor="middle" transform="translate(486.6 718.5) scale(0.72 1) translate(-486.6 -718.5)">100</text>
<text x="552.5" y="718.5" font-size="12.3" fill="#3b4346" stroke="#3b4346" stroke-width="0.35" letter-spacing="0.7" text-anchor="middle" transform="translate(552.5 718.5) scale(0.72 1) translate(-552.5 -718.5)">168,3</text>
<text x="621.2" y="718.5" font-size="12.3" fill="#3b4346" stroke="#3b4346" stroke-width="0.35" letter-spacing="0.7" text-anchor="middle" transform="translate(621.2 718.5) scale(0.72 1) translate(-621.2 -718.5)">21,3</text>
<text x="88.2" y="738.7" font-size="11.2" fill="#505050" stroke="#505050" stroke-width="0.35" textLength="135" lengthAdjust="spacing" transform="translate(88.2 738.7) scale(0.7 1) translate(-88.2 -738.7)">DUCT IN LINE 150/560</text>
<text x="227.8" y="738.7" font-size="12.3" fill="#505050" stroke="#505050" stroke-width="0.35" letter-spacing="0.7" text-anchor="middle" transform="translate(227.8 738.7) scale(0.72 1) translate(-227.8 -738.7)">147</text>
<text x="287.2" y="738.7" font-size="12.3" fill="#505050" stroke="#505050" stroke-width="0.35" letter-spacing="0.7" text-anchor="middle" transform="translate(287.2 738.7) scale(0.72 1) translate(-287.2 -738.7)">244</text>
<text x="360.3" y="738.7" font-size="12.3" fill="#505050" stroke="#505050" stroke-width="0.35" letter-spacing="0.7" text-anchor="middle" transform="translate(360.3 738.7) scale(0.72 1) translate(-360.3 -738.7)">293,4</text>
<text x="419.8" y="738.7" font-size="12.3" fill="#505050" stroke="#505050" stroke-width="0.35" letter-spacing="0.7" text-anchor="middle" transform="translate(419.8 738.7) scale(0.72 1) translate(-419.8 -738.7)">130</text>
<text x="486.6" y="738.7" font-size="12.3" fill="#505050" stroke="#505050" stroke-width="0.35" letter-spacing="0.7" text-anchor="middle" transform="translate(486.6 738.7) scale(0.72 1) translate(-486.6 -738.7)">115</text>
<text x="552.5" y="738.7" font-size="12.3" fill="#505050" stroke="#505050" stroke-width="0.35" letter-spacing="0.7" text-anchor="middle" transform="translate(552.5 738.7) scale(0.72 1) translate(-552.5 -738.7)">192,3</text>
<text x="621.2" y="738.7" font-size="12.3" fill="#505050" stroke="#505050" stroke-width="0.35" letter-spacing="0.7" text-anchor="middle" transform="translate(621.2 738.7) scale(0.72 1) translate(-621.2 -738.7)">21,3</text>
<text x="88.2" y="758.8" font-size="11.2" fill="#3b4346" stroke="#3b4346" stroke-width="0.35" textLength="135" lengthAdjust="spacing" transform="translate(88.2 758.8) scale(0.7 1) translate(-88.2 -758.8)">DUCT IN LINE 160/560</text>
<text x="227.8" y="758.8" font-size="12.3" fill="#3b4346" stroke="#3b4346" stroke-width="0.35" letter-spacing="0.7" text-anchor="middle" transform="translate(227.8 758.8) scale(0.72 1) translate(-227.8 -758.8)">157</text>
<text x="287.2" y="758.8" font-size="12.3" fill="#3b4346" stroke="#3b4346" stroke-width="0.35" letter-spacing="0.7" text-anchor="middle" transform="translate(287.2 758.8) scale(0.72 1) translate(-287.2 -758.8)">244</text>
<text x="360.3" y="758.8" font-size="12.3" fill="#3b4346" stroke="#3b4346" stroke-width="0.35" letter-spacing="0.7" text-anchor="middle" transform="translate(360.3 758.8) scale(0.72 1) translate(-360.3 -758.8)">313,4</text>
<text x="419.8" y="758.8" font-size="12.3" fill="#3b4346" stroke="#3b4346" stroke-width="0.35" letter-spacing="0.7" text-anchor="middle" transform="translate(419.8 758.8) scale(0.72 1) translate(-419.8 -758.8)">130</text>
<text x="486.6" y="758.8" font-size="12.3" fill="#3b4346" stroke="#3b4346" stroke-width="0.35" letter-spacing="0.7" text-anchor="middle" transform="translate(486.6 758.8) scale(0.72 1) translate(-486.6 -758.8)">115</text>
<text x="552.5" y="758.8" font-size="12.3" fill="#3b4346" stroke="#3b4346" stroke-width="0.35" letter-spacing="0.7" text-anchor="middle" transform="translate(552.5 758.8) scale(0.72 1) translate(-552.5 -758.8)">192,3</text>
<text x="621.2" y="758.8" font-size="12.3" fill="#3b4346" stroke="#3b4346" stroke-width="0.35" letter-spacing="0.7" text-anchor="middle" transform="translate(621.2 758.8) scale(0.72 1) translate(-621.2 -758.8)">21,3</text>
<text x="88.2" y="779.0" font-size="11.2" fill="#505050" stroke="#505050" stroke-width="0.35" textLength="135" lengthAdjust="spacing" transform="translate(88.2 779.0) scale(0.7 1) translate(-88.2 -779.0)">DUCT IN LINE 200/910</text>
<text x="227.8" y="779.0" font-size="12.3" fill="#505050" stroke="#505050" stroke-width="0.35" letter-spacing="0.7" text-anchor="middle" transform="translate(227.8 779.0) scale(0.72 1) translate(-227.8 -779.0)">197</text>
<text x="287.2" y="779.0" font-size="12.3" fill="#505050" stroke="#505050" stroke-width="0.35" letter-spacing="0.7" text-anchor="middle" transform="translate(287.2 779.0) scale(0.72 1) translate(-287.2 -779.0)">278,5</text>
<text x="360.3" y="779.0" font-size="12.3" fill="#505050" stroke="#505050" stroke-width="0.35" letter-spacing="0.7" text-anchor="middle" transform="translate(360.3 779.0) scale(0.72 1) translate(-360.3 -779.0)">353,6</text>
<text x="419.8" y="779.0" font-size="12.3" fill="#505050" stroke="#505050" stroke-width="0.35" letter-spacing="0.7" text-anchor="middle" transform="translate(419.8 779.0) scale(0.72 1) translate(-419.8 -779.0)">142</text>
<text x="486.6" y="779.0" font-size="12.3" fill="#505050" stroke="#505050" stroke-width="0.35" letter-spacing="0.7" text-anchor="middle" transform="translate(486.6 779.0) scale(0.72 1) translate(-486.6 -779.0)">140</text>
<text x="552.5" y="779.0" font-size="12.3" fill="#505050" stroke="#505050" stroke-width="0.35" letter-spacing="0.7" text-anchor="middle" transform="translate(552.5 779.0) scale(0.72 1) translate(-552.5 -779.0)">230,2</text>
<text x="621.2" y="779.0" font-size="12.3" fill="#505050" stroke="#505050" stroke-width="0.35" letter-spacing="0.7" text-anchor="middle" transform="translate(621.2 779.0) scale(0.72 1) translate(-621.2 -779.0)">51,5</text>
</g>
</svg>
</body></html>
